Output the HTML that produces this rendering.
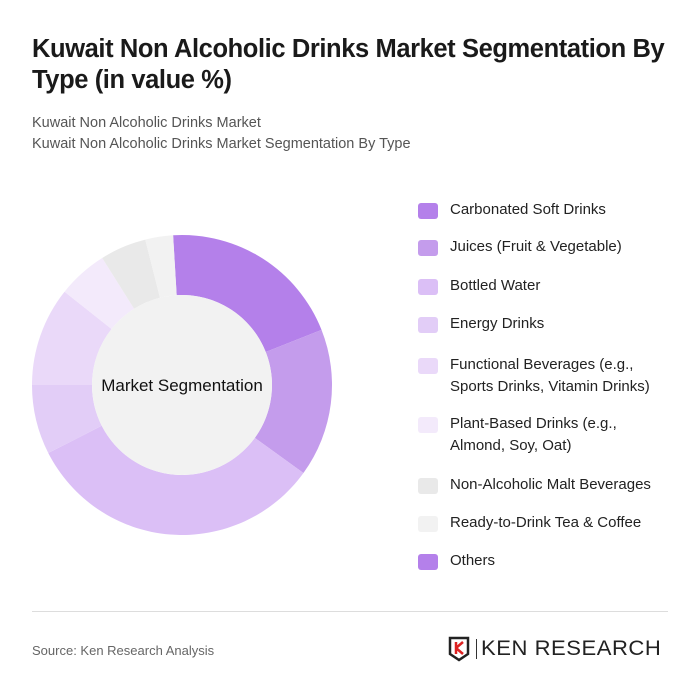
<!DOCTYPE html>
<html><head><meta charset="utf-8"><style>
body{margin:0;width:700px;height:698px;background:#fff;font-family:"Liberation Sans",sans-serif;position:relative;overflow:hidden}
.t{position:absolute;left:32px;top:34px;font-size:25.5px;font-weight:bold;color:#1a1a1a;line-height:31px;letter-spacing:-0.4px;width:660px}
.s{position:absolute;left:32px;top:113px;font-size:14.5px;color:#555;line-height:21px}
.leg{position:absolute;left:418px;font-size:15px;color:#222;line-height:22px}
.sw{position:absolute;left:0;width:20px;height:16px;border-radius:3px}
.lt{position:absolute;left:32px;white-space:nowrap}
</style></head><body>
<div class="t">Kuwait Non Alcoholic Drinks Market Segmentation By Type (in value %)</div>
<div class="s">Kuwait Non Alcoholic Drinks Market<br>Kuwait Non Alcoholic Drinks Market Segmentation By Type</div>
<svg id="ch" width="700" height="698" style="position:absolute;left:0;top:0"></svg>
<div id="legend"></div>
<div style="position:absolute;left:32px;top:611px;width:636px;height:1px;background:#ddd"></div>
<div style="position:absolute;left:32px;top:643px;font-size:13px;color:#666">Source: Ken Research Analysis</div>
<div style="position:absolute;left:448px;top:636px;width:220px;height:26px">
<svg width="24" height="26" style="position:absolute;left:0;top:0"><path d="M2 2H20V18L11 24L2 18Z" fill="none" stroke="#222" stroke-width="2.5"/><path d="M8 6V18M8 12L15 6M8 12L15 18" stroke="#d22" stroke-width="2.5" fill="none"/></svg>
<div style="position:absolute;left:28px;top:3px;width:1px;height:20px;background:#333"></div>
<div style="position:absolute;left:33px;top:1px;font-size:21px;color:#222;letter-spacing:0.5px;white-space:nowrap;transform:scaleX(1.05);transform-origin:left">KEN RESEARCH</div>
</div>
<script>
const categories=["Carbonated Soft Drinks","Juices (Fruit & Vegetable)","Bottled Water","Energy Drinks","Functional Beverages (e.g., Sports Drinks, Vitamin Drinks)","Plant-Based Drinks (e.g., Almond, Soy, Oat)","Non-Alcoholic Malt Beverages","Ready-to-Drink Tea & Coffee","Others"];
const values=[20,16,32.6,7.5,10.7,5.4,5,3,0];
const colors=["#b480ea","#c49cec","#dbbff6","#e2cdf7","#ead9f9","#f3eafb","#e9e9e9","#f2f2f2","#b480ea"];
const legendLines=[["Carbonated Soft Drinks"],["Juices (Fruit & Vegetable)"],["Bottled Water"],["Energy Drinks"],["Functional Beverages (e.g.,","Sports Drinks, Vitamin Drinks)"],["Plant-Based Drinks (e.g.,","Almond, Soy, Oat)"],["Non-Alcoholic Malt Beverages"],["Ready-to-Drink Tea & Coffee"],["Others"]];
const legendTops=[199,236,275,313,354,413,474,512,550];
const NS="http://www.w3.org/2000/svg",svg=document.getElementById('ch');
const cx=182,cy=385,R=150,r=90,total=values.reduce((a,b)=>a+b,0);
let a=-3.4;
function pt(ang,rad){const t=ang*Math.PI/180;return [cx+rad*Math.sin(t),cy-rad*Math.cos(t)];}
values.forEach((v,i)=>{
  if(v<=0)return;
  const span=v/total*360,a2=a+span,lg=span>180?1:0;
  const p1=pt(a,R),p2=pt(a2,R),p3=pt(a2,r),p4=pt(a,r);
  const p=document.createElementNS(NS,'path');
  p.setAttribute('d',`M${p1}A${R},${R} 0 ${lg} 1 ${p2}L${p3}A${r},${r} 0 ${lg} 0 ${p4}Z`);
  p.setAttribute('fill',colors[i]);
  
  
  svg.appendChild(p);a=a2;
});
const c=document.createElementNS(NS,'circle');
c.setAttribute('cx',cx);c.setAttribute('cy',cy);c.setAttribute('r',r);c.setAttribute('fill','#f2f2f2');


svg.appendChild(c);
const tx=document.createElementNS(NS,'text');
tx.setAttribute('x',cx);tx.setAttribute('y',cy+6);tx.setAttribute('text-anchor','middle');
tx.setAttribute('font-size','17');tx.setAttribute('fill','#111');tx.setAttribute('font-family','Liberation Sans, sans-serif');
tx.textContent='Market Segmentation';


svg.appendChild(tx);
const lg=document.getElementById('legend');
categories.forEach((n,i)=>{
  const d=document.createElement('div');d.className='leg';d.style.top=legendTops[i]+'px';
  
  
  const s=document.createElement('div');s.className='sw';s.style.top='4px';s.style.background=colors[i];
  d.appendChild(s);
  const l=document.createElement('div');l.className='lt';l.innerHTML=legendLines[i].join('<br>');
  d.appendChild(l);lg.appendChild(d);
});
</script>
</body></html>
